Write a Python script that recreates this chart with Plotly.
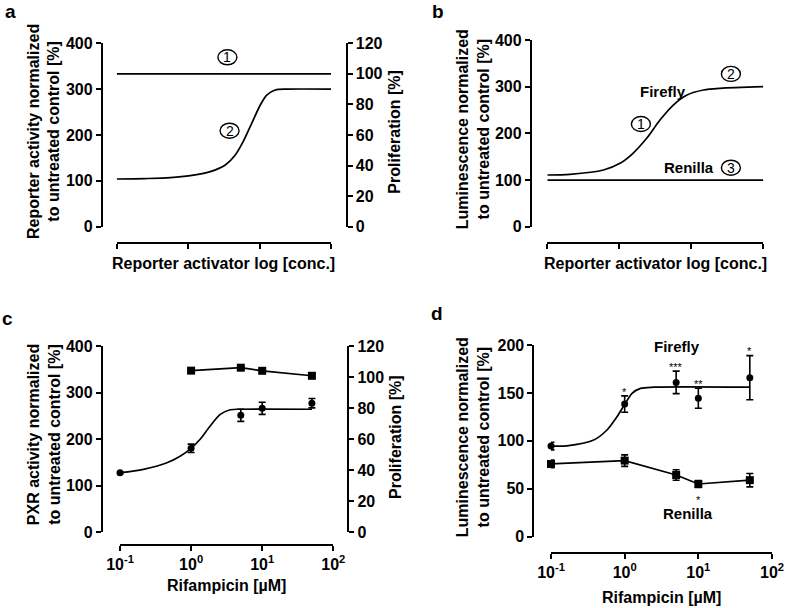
import math
import plotly.graph_objects as go

FONT = "Liberation Sans, Arial, Helvetica, sans-serif"
W, H = 788, 608

# ---------------- data ----------------
# Panel a (schematic)
a_x_ticks = [0, 1, 2, 3]
a_prolif_x = [0, 3]
a_prolif_y = [100, 100]
a_curve_x = [0, 0.4, 0.75, 1.03, 1.31, 1.52, 1.66, 1.77, 1.89, 2.01, 2.10, 2.22, 2.38, 3]
a_curve_y = [104, 105, 106.9, 111.2, 120, 134.6, 156.4, 185.4, 225.5, 265.4, 287.2, 298.1, 300, 300]

# Panel b (schematic)
b_renilla_x = [0, 3]
b_renilla_y = [100, 100]
b_curve_x = [0, 0.315, 0.78, 1.01, 1.19, 1.38, 1.565, 1.75, 1.94, 2.17, 2.4, 3]
b_curve_y = [110.8, 112.3, 121.5, 135.8, 157.3, 189.4, 228.6, 260.7, 282.2, 292.9, 296.5, 300]

# Panel c
conc = [0.1, 1, 5, 10, 50]
c_prolif_conc = [1, 5, 10, 50]
c_prolif = [104.1, 106, 104, 100.8]
c_prolif_err = [0.8, 0.8, 0.8, 1.8]
c_reporter = [127.5, 180, 251, 266, 277]
c_reporter_err = [2, 9, 13, 13, 10]
c_fit_logx = [-1, -0.67, -0.34, -0.155, 0, 0.127, 0.268, 0.41, 0.55, 0.7, 1.7]
c_fit_y = [127.5, 134.8, 149, 163, 180, 199.4, 228, 253, 263, 264, 264]

# Panel d
d_firefly = [94.6, 138.4, 161, 144.4, 165.9]
d_firefly_err = [4, 8.5, 11.7, 10.4, 23]
d_renilla = [75.9, 79.4, 64.4, 55, 59]
d_renilla_err = [4, 6, 5.5, 3.5, 7]
d_fit_logx = [-1, -0.786, -0.42, -0.24, -0.104, 0, 0.1, 0.214, 0.4, 1.7]
d_fit_y = [94.6, 94.8, 100.9, 111.3, 125.2, 138, 149.6, 154.8, 156, 156]
d_firefly_stars = ["", "*", "***", "**", "*"]
d_renilla_stars = ["", "", "", "*", ""]

log_ticks = [0.1, 1, 10, 100]
log_ticktext = ["10<sup>-1</sup>", "10<sup>0</sup>", "10<sup>1</sup>", "10<sup>2</sup>"]

# ---------------- helpers ----------------
def px(x):
    return x / W

def py(y):
    return 1 - y / H

LW = 1.8
BLACK = "black"
tickfont = dict(family=FONT, size=16, color=BLACK, weight="bold")
labfont = dict(family=FONT, size=15, color=BLACK, weight="bold")
titlefont = dict(family=FONT, size=16, color=BLACK, weight="bold")

fig = go.Figure()

line_style = dict(color=BLACK, width=1.7)
curve_style = dict(color=BLACK, width=1.7, shape="spline", smoothing=0.8)
err_style = dict(type="data", thickness=1.6, width=3.5, color=BLACK)

# Panel a
fig.add_trace(go.Scatter(x=a_prolif_x, y=a_prolif_y, mode="lines", line=line_style,
                         xaxis="x", yaxis="y2", cliponaxis=False))
fig.add_trace(go.Scatter(x=a_curve_x, y=a_curve_y, mode="lines", line=curve_style,
                         xaxis="x", yaxis="y", cliponaxis=False))
# Panel b
fig.add_trace(go.Scatter(x=b_renilla_x, y=b_renilla_y, mode="lines", line=line_style,
                         xaxis="x2", yaxis="y3", cliponaxis=False))
fig.add_trace(go.Scatter(x=b_curve_x, y=b_curve_y, mode="lines", line=curve_style,
                         xaxis="x2", yaxis="y3", cliponaxis=False))
# Panel c
fig.add_trace(go.Scatter(x=c_prolif_conc, y=c_prolif, mode="lines+markers", line=line_style,
                         marker=dict(symbol="square", size=8, color=BLACK),
                         error_y=dict(array=c_prolif_err, **err_style),
                         xaxis="x3", yaxis="y5", cliponaxis=False))
fig.add_trace(go.Scatter(x=[10 ** v for v in c_fit_logx], y=c_fit_y, mode="lines",
                         line=curve_style, xaxis="x3", yaxis="y4", cliponaxis=False))
fig.add_trace(go.Scatter(x=conc, y=c_reporter, mode="markers",
                         marker=dict(symbol="circle", size=7, color=BLACK),
                         error_y=dict(array=c_reporter_err, **err_style),
                         xaxis="x3", yaxis="y4", cliponaxis=False))
# Panel d
fig.add_trace(go.Scatter(x=[10 ** v for v in d_fit_logx], y=d_fit_y, mode="lines",
                         line=curve_style, xaxis="x4", yaxis="y6", cliponaxis=False))
fig.add_trace(go.Scatter(x=conc, y=d_firefly, mode="markers",
                         marker=dict(symbol="circle", size=7, color=BLACK),
                         error_y=dict(array=d_firefly_err, **err_style),
                         xaxis="x4", yaxis="y6", cliponaxis=False))
fig.add_trace(go.Scatter(x=conc, y=d_renilla, mode="lines+markers", line=line_style,
                         marker=dict(symbol="square", size=8, color=BLACK),
                         error_y=dict(array=d_renilla_err, **err_style),
                         xaxis="x4", yaxis="y6", cliponaxis=False))

# ---------------- axes ----------------
def yax(domain_px, pos_px, rng, dtick, side="left", overlay=None):
    d = dict(domain=[py(domain_px[1]), py(domain_px[0])], anchor="free", position=px(pos_px),
             range=rng, dtick=dtick, tick0=0, showgrid=False, zeroline=False, automargin=False,
             showline=True, linecolor=BLACK, linewidth=LW, ticks="outside", ticklen=5,
             tickwidth=LW, tickcolor=BLACK, tickfont=tickfont, side=side, fixedrange=True)
    if overlay:
        d["overlaying"] = overlay
    return d

def xax(domain_px, pos_px, rng, log=False):
    d = dict(domain=[px(domain_px[0]), px(domain_px[1])], anchor="free", position=py(pos_px),
             range=rng, showgrid=False, zeroline=False, showline=True, linecolor=BLACK,
             linewidth=LW, ticks="outside", ticklen=5, tickwidth=LW, tickcolor=BLACK,
             tickfont=tickfont, fixedrange=True, automargin=False)
    if log:
        d.update(type="log", tickvals=log_ticks, ticktext=log_ticktext)
    else:
        d.update(tickvals=a_x_ticks, showticklabels=False)
    return d

fig.update_layout(
    template="none",
    width=W, height=H, autosize=False,
    margin=dict(l=0, r=0, t=0, b=0, pad=0),
    paper_bgcolor="white", plot_bgcolor="white",
    showlegend=False,
    font=dict(family=FONT, color=BLACK),
    xaxis=xax((116.7, 331), 243.3, [0, 3]),
    yaxis=yax((43.3, 226.7), 101.7, [0, 400], 100),
    yaxis2=yax((43.3, 226.7), 346.7, [0, 120], 20, side="right", overlay="y"),
    xaxis2=xax((547.3, 763.3), 243.3, [0, 3]),
    yaxis3=yax((40, 226.7), 530.7, [0, 400], 100),
    xaxis3=xax((120, 333.3), 545, [-1, 2], log=True),
    yaxis4=yax((346, 532), 101.7, [0, 400], 100),
    yaxis5=yax((346, 532), 348.3, [0, 120], 20, side="right", overlay="y4"),
    xaxis4=xax((551, 772), 553, [-1, 2], log=True),
    yaxis6=yax((345, 536.7), 533.3, [0, 200], 50),
)

# ---------------- annotations ----------------
ann = []

def note(text, x, y, xref, yref, font=labfont, xanchor="center", yanchor="middle", **kw):
    ann.append(dict(text=text, x=x, y=y, xref=xref, yref=yref, showarrow=False,
                    font=font, xanchor=xanchor, yanchor=yanchor, **kw))

# panel letters
letfont = dict(family=FONT, size=19, color=BLACK, weight="bold")
note("a", px(10), py(11.7), "paper", "paper", font=letfont)
note("b", px(437.5), py(11.7), "paper", "paper", font=letfont)
note("c", px(8), py(318.4), "paper", "paper", font=letfont)
note("d", px(436.5), py(313.4), "paper", "paper", font=letfont)

# axis titles
note("Reporter activity normalized<br>to untreated control [%]", px(43.3), py(131.7),
     "paper", "paper", font=titlefont, textangle=-90)
note("Proliferation [%]", px(395), py(131.7), "paper", "paper", font=titlefont, textangle=-90)
note("Reporter activator log [conc.]", px(223.5), py(263), "paper", "paper", font=titlefont)

note("Luminescence normalized<br>to untreated control [%]", px(473.2), py(129),
     "paper", "paper", font=titlefont, textangle=-90)
note("Reporter activator log [conc.]", px(655.7), py(263), "paper", "paper", font=titlefont)

note("PXR activity normalized<br>to untreated control [%]", px(44.2), py(435),
     "paper", "paper", font=titlefont, textangle=-90)
note("Proliferation [%]", px(395), py(437), "paper", "paper", font=titlefont, textangle=-90)
note("Rifampicin [µM]", px(226.5), py(585), "paper", "paper", font=titlefont)

note("Luminescence normalized<br>to untreated control [%]", px(473.2), py(437),
     "paper", "paper", font=titlefont, textangle=-90)
note("Rifampicin [µM]", px(661.5), py(597), "paper", "paper", font=titlefont)

# in-plot labels panel a
note("Proliferation", -0.048, 367.3, "x", "y", xanchor="left")
note("Reporter", -0.055, 52.5, "x", "y", xanchor="left")
note("activity", -0.055, 17.6, "x", "y", xanchor="left")
# panel b
note("Firefly", 1.60, 289, "x2", "y3")
note("Renilla", 1.97, 126.4, "x2", "y3")
# panel c
note("Proliferation", -1.094, 385.6, "x3", "y4", xanchor="left")
note("Reporter", -1.094, 93.9, "x3", "y4", xanchor="left")
note("activity", -1.094, 58, "x3", "y4", xanchor="left")
# panel d
note("Firefly", 0.715, 198.2, "x4", "y6")
note("Renilla", 0.86, 24.4, "x4", "y6")

starfont = dict(family=FONT, size=11, color=BLACK)
for c, v, e, s in zip(conc, d_firefly, d_firefly_err, d_firefly_stars):
    if s:
        note(s, math.log10(c), v + e, "x4", "y6", font=starfont, yshift=4.3)
for c, v, e, s in zip(conc, d_renilla, d_renilla_err, d_renilla_stars):
    if s:
        note(s, math.log10(c), v - e, "x4", "y6", font=starfont, yshift=-12.5)

# circled numbers
numfont = dict(family=FONT, size=14, color=BLACK)
shapes = []
def circled(num, x, y, xref, yref):
    shapes.append(dict(type="circle", xref=xref, yref=yref, xsizemode="pixel", ysizemode="pixel",
                       xanchor=x, yanchor=y, x0=-9.5, x1=9.5, y0=-7.5, y1=7.5,
                       line=dict(color=BLACK, width=1.4)))
    note(str(num), x, y, xref, yref, font=numfont)

circled(1, 1.55, 369.5, "x", "y")
circled(2, 1.58, 209.4, "x", "y")
circled(1, 1.30, 220, "x2", "y3")
circled(2, 2.55, 327.4, "x2", "y3")
circled(3, 2.55, 126.4, "x2", "y3")

fig.update_layout(annotations=ann, shapes=shapes)
fig.write_html(
    "out.html",
    config={"displayModeBar": False},
    post_script="document.body.style.margin='0';document.body.style.padding='0';"
                "document.body.style.overflow='hidden';",
)
